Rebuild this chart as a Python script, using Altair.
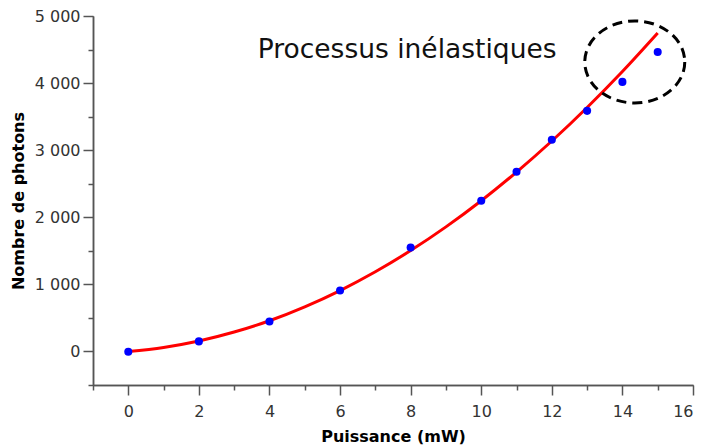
import altair as alt
import pandas as pd

# Measured points
puissance = [0, 2, 4, 6, 8, 10, 11, 12, 13, 14, 15]
photons = [-5, 150, 446, 908, 1548, 2247, 2679, 3155, 3586, 4018, 4464]

# Red fitted curve
fit_x = [0, 1, 2, 3, 4, 5, 6, 7, 8, 9, 10, 11, 12, 13, 14, 15]
fit_y = [0, 60, 156, 289, 458, 665, 908, 1188, 1504, 1857, 2247, 2674, 3137, 3637, 4173, 4747]

# Ticks
x_major = [0, 2, 4, 6, 8, 10, 12, 14, 16]
x_minor = [-1, 1, 3, 5, 7, 9, 11, 13, 15]
y_major = [0, 1000, 2000, 3000, 4000, 5000]
y_minor = [-500, 500, 1500, 2500, 3500, 4500]

# Annotations
annot_text = ["Processus inélastiques"]
annot_x = [7.9]
annot_y = [4494]
ellipse_x = [14.35]
ellipse_y = [4315]

pts = pd.DataFrame({"x": puissance, "y": photons})
fit = pd.DataFrame({"x": fit_x, "y": fit_y})
ann = pd.DataFrame({"x": annot_x, "y": annot_y, "t": annot_text})
ell = pd.DataFrame({"x": ellipse_x, "y": ellipse_y})

xs = alt.Scale(domain=[-1, 16], nice=False, zero=False)
ys = alt.Scale(domain=[-500, 5000], nice=False, zero=False)

common = dict(
    domainColor="#555555", tickColor="#555555", domainWidth=1.5, tickWidth=1.5,
    labelFont="DejaVu Sans", labelFontSize=16, labelColor="#333333",
    titleFont="DejaVu Sans", titleFontSize=16, titleFontWeight="bold", titleColor="#000000",
    grid=False,
)

thousands = "replace(format(datum.value, ','), ',', ' ')"

line = alt.Chart(fit).mark_line(color="#ff0000", strokeWidth=3, interpolate="monotone").encode(
    x=alt.X("x:Q", scale=xs, axis=alt.Axis(values=x_minor, tickSize=5, labels=False, title=None,
                                           orient="bottom", **common)),
    y=alt.Y("y:Q", scale=ys, axis=alt.Axis(values=y_minor, tickSize=5, labels=False, title=None,
                                           orient="left", **common)),
)

points = alt.Chart(pts).mark_circle(size=65, color="#0000ff", opacity=1).encode(
    x=alt.X("x:Q", scale=xs, axis=alt.Axis(values=x_major, tickSize=10, title="Puissance (mW)",
                                           labelPadding=8, titlePadding=9, orient="bottom", **common)),
    y=alt.Y("y:Q", scale=ys, axis=alt.Axis(values=y_major, tickSize=10, title="Nombre de photons",
                                           labelExpr=thousands, labelPadding=3, titlePadding=8,
                                           orient="left", **common)),
)

ellipse_path = ("M1,0 C1,0.4529 0.5523,0.82 0,0.82 C-0.5523,0.82 -1,0.4529 -1,0 "
                "C-1,-0.4529 -0.5523,-0.82 0,-0.82 C0.5523,-0.82 1,-0.4529 1,0 Z")

ellipse = alt.Chart(ell).mark_point(
    shape=ellipse_path, size=10000, filled=False, stroke="#000000",
    strokeWidth=3, strokeDash=[10, 6], opacity=1,
).encode(
    x=alt.X("x:Q", scale=xs, axis=None),
    y=alt.Y("y:Q", scale=ys, axis=None),
)

text = alt.Chart(ann).mark_text(
    font="DejaVu Sans", fontSize=26.5, color="#111111", align="center", baseline="middle",
).encode(
    x=alt.X("x:Q", scale=xs, axis=None),
    y=alt.Y("y:Q", scale=ys, axis=None),
    text="t:N",
)

chart = alt.layer(line, ellipse, points, text).resolve_axis(
    x="independent", y="independent"
).properties(
    width=600, height=369,
    autosize=alt.AutoSizeParams(type="none"),
    padding={"left": 85, "top": 8, "right": 5, "bottom": 60},
).configure_view(stroke=None)

chart.save("out.html", embed_options={"renderer": "svg", "actions": False})
